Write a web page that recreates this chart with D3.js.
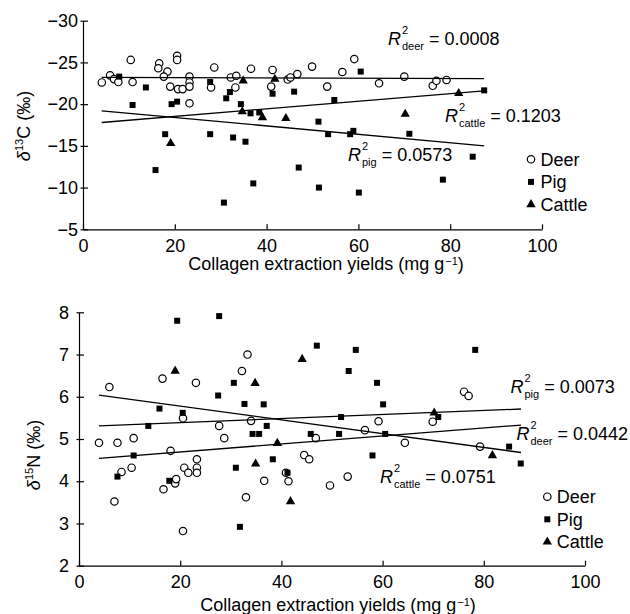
<!DOCTYPE html>
<html lang="en">
<head>
<meta charset="utf-8">
<script src="https://cdn.jsdelivr.net/npm/d3@7"></script>
<style>
  body { margin: 0; background: #fff; }
  svg { font-family: "Liberation Sans", Arial, sans-serif; }
</style>
</head>
<body>
<script>
// collagen yield (mg/g) vs delta13C
var deerC = [[4.1,-22.6],[5.9,-23.45],[6.75,-23.0],[7.7,-22.65],[10.4,-25.3],[10.8,-22.65],[16.6,-24.9],[16.4,-24.3],
  [18.4,-23.9],[17.6,-23.3],[19.0,-22.1],[20.5,-25.8],[20.5,-25.3],[20.7,-21.8],[21.7,-21.8],[23.2,-23.3],[23.2,-22.6],
  [23.2,-22.1],[23.2,-20.1],[28.6,-24.4],[27.9,-22.0],[32.2,-23.2],[33.4,-23.4],[33.2,-22.0],[36.6,-24.25],[41.3,-24.1],
  [41.0,-22.1],[44.6,-22.95],[45.2,-23.2],[46.7,-23.6],[49.9,-24.5],[53.2,-22.1],[56.5,-23.85],[59.1,-25.4],[64.5,-22.5],
  [70.0,-23.3],[76.2,-22.2],[77.0,-22.8],[79.2,-22.9]];
var pigC = [[7.9,-23.3],[13.7,-22.0],[10.8,-19.9],[15.8,-12.1],[17.9,-16.4],[19.3,-20.0],[20.5,-20.3],[27.7,-22.65],
  [27.7,-16.4],[30.7,-8.2],[31.2,-20.7],[32.0,-21.45],[32.7,-16.0],[34.4,-20.0],[35.4,-15.5],[36.5,-18.9],[38.4,-19.0],
  [37.1,-10.5],[41.3,-21.25],[46.0,-21.5],[47.0,-12.4],[51.3,-17.9],[51.4,-10.0],[53.4,-16.4],[54.75,-20.5],[58.2,-16.4],
  [58.9,-16.8],[60.5,-23.9],[60.1,-9.4],[71.1,-16.45],[78.4,-10.95],[84.9,-13.7],[87.4,-21.65]];
var cattleC = [[19.1,-15.3],[34.9,-22.8],[34.7,-19.1],[39.1,-18.4],[41.8,-23.0],[44.2,-18.3],[70.2,-18.8],[81.85,-21.3]];

// collagen yield vs delta15N
var deerN = [[3.95,4.91],[6.0,6.23],[7.6,4.91],[10.8,5.02],[10.4,4.32],[8.4,4.22],[7.0,3.52],[16.5,6.43],[18.1,4.72],
  [16.7,3.81],[19.0,3.95],[19.2,4.05],[20.55,5.49],[20.55,2.82],[20.8,4.32],[21.6,4.2],[23.1,6.33],[23.3,4.52],[23.3,4.32],
  [23.3,4.2],[27.7,5.31],[28.7,5.02],[32.2,6.61],[33.3,7.0],[34.0,5.43],[33.0,3.62],[36.6,4.01],[41.4,4.0],[40.9,4.2],
  [46.8,5.02],[44.5,4.62],[45.5,4.52],[49.6,3.9],[53.1,4.11],[56.5,5.21],[59.2,5.42],[64.4,4.91],[69.9,5.41],[76.1,6.12],
  [77.0,6.02],[79.25,4.82]];
var pigN = [[19.4,7.8],[27.7,7.91],[30.6,6.33],[27.5,6.03],[15.9,5.72],[20.5,5.62],[13.7,5.31],[10.8,4.61],[7.6,4.11],
  [17.85,4.01],[32.7,5.83],[36.5,5.82],[37.1,5.31],[34.3,5.12],[35.6,5.12],[31.0,4.32],[38.3,4.52],[31.8,2.92],[41.2,4.2],
  [45.8,5.12],[47.0,7.21],[54.7,7.11],[53.3,6.61],[58.9,6.33],[60.1,5.82],[51.8,5.52],[51.4,5.12],[60.5,5.12],[58.0,4.61],
  [71.0,5.52],[78.3,7.11],[85.0,4.82],[87.3,4.42]];
var cattleN = [[19.0,6.61],[34.8,6.32],[44.1,6.89],[39.2,4.9],[34.9,4.41],[41.8,3.52],[70.2,5.62],[81.7,4.61]];

// fitted lines: [x start, y start, x end, y end]
var fitC = { deer: [4.07,-23.2,87.4,-23.05], cattle: [4.07,-17.8,87.4,-21.6], pig: [4.07,-19.2,87.4,-15.0] };
var fitN = { cattle: [3.95,6.04,87.35,4.68], pig: [3.95,5.31,87.35,5.71], deer: [3.95,4.54,87.35,5.33] };

var r2C = { deer: "0.0008", cattle: "0.1203", pig: "0.0573" };
var r2N = { pig: "0.0073", deer: "0.0442", cattle: "0.0751" };

var species = ["Deer", "Pig", "Cattle"];
var xTicks = [0, 20, 40, 60, 80, 100];
var yTicksC = [-30, -25, -20, -15, -10, -5];
var yTicksN = [2, 3, 4, 5, 6, 7, 8];

var w = 630, h = 614;
var svg = d3.select("body").append("svg").attr("width", w).attr("height", h);

var sq = d3.symbol().type(d3.symbolSquare).size(36);
var tri = d3.symbol().type(d3.symbolTriangle).size(38);

function marker(g, kind, x, y) {
  if (kind === "Deer") {
    g.append("circle").attr("cx", x).attr("cy", y).attr("r", 3.7)
      .attr("fill", "#fff").attr("stroke", "#000").attr("stroke-width", 1.2);
  } else {
    g.append("path").attr("d", kind === "Pig" ? sq() : tri())
      .attr("transform", "translate(" + x + "," + y + ")").attr("fill", "#000");
  }
}

function r2Label(g, x, y, sub, val) {
  var t = g.append("text").attr("x", x).attr("y", y).attr("font-size", 18)
    .attr("font-style", "italic").text("R");
  var rw = t.node().getComputedTextLength();
  g.append("text").attr("x", x + rw + 1).attr("y", y - 11).attr("font-size", 11).text("2");
  var s = g.append("text").attr("x", x + rw + 1).attr("y", y + 5).attr("font-size", 11).text(sub);
  var sw = s.node().getComputedTextLength();
  g.append("text").attr("x", x + rw + 1 + sw + 5).attr("y", y).attr("font-size", 18).text("= " + val);
}

function panel(opt) {
  var g = svg.append("g");
  var x = opt.x, y = opt.y;

  // axes
  var xa = g.append("g").attr("transform", "translate(0," + y.range()[0] + ")")
    .call(d3.axisBottom(x).tickValues(xTicks).tickSizeInner(-5).tickSizeOuter(0).tickPadding(9.5));
  var ya = g.append("g").attr("transform", "translate(" + x.range()[0] + ",0)")
    .call(d3.axisLeft(y).tickValues(opt.yTicks).tickFormat(d3.format("d"))
      .tickSizeInner(-5).tickSizeOuter(0).tickPadding(opt.yPad));
  ya.selectAll(".tick line").attr("x1", -2.5);
  [xa, ya].forEach(function(a) {
    a.attr("font-size", 18).attr("font-family", null);
    a.selectAll("path, line").attr("stroke", "#000").attr("stroke-width", 1.2);
    a.selectAll("text").attr("fill", "#000");
  });

  // points
  opt.data[0].forEach(function(d) { marker(g, "Deer", x(d[0]), y(d[1])); });
  opt.data[1].forEach(function(d) { marker(g, "Pig", x(d[0]), y(d[1])); });
  opt.data[2].forEach(function(d) { marker(g, "Cattle", x(d[0]), y(d[1])); });

  // fitted lines
  Object.keys(opt.fit).forEach(function(k) {
    var f = opt.fit[k];
    g.append("line").attr("x1", x(f[0])).attr("y1", y(f[1])).attr("x2", x(f[2])).attr("y2", y(f[3]))
      .attr("stroke", "#000").attr("stroke-width", 1.3);
  });

  // legend
  species.forEach(function(s, i) {
    var ly = opt.legend[1] + i * 22.6;
    marker(g, s, opt.legend[0], ly);
    g.append("text").attr("x", opt.legend[0] + 9.5).attr("y", ly + 6.4).attr("font-size", 18).text(s);
  });

  // axis titles
  var xt = g.append("text").attr("x", opt.xTitle[0]).attr("y", opt.xTitle[1])
    .attr("text-anchor", "middle").attr("font-size", 18);
  xt.append("tspan").text("Collagen extraction yields (mg g");
  xt.append("tspan").attr("font-size", 11).attr("dx", 1).attr("dy", -5).text("\u22121");
  xt.append("tspan").attr("dy", 5).text(")");

  var yt = g.append("text").attr("transform", "translate(" + opt.yTitle[0] + "," + opt.yTitle[1] + ") rotate(-90)")
    .attr("text-anchor", "middle").attr("font-size", 18);
  yt.append("tspan").attr("font-style", "italic").text("\u03b4");
  yt.append("tspan").attr("font-size", 11).attr("dy", -7).text(opt.iso);
  yt.append("tspan").attr("dy", 7).text(opt.el + " (\u2030)");
  return g;
}

var gC = panel({
  x: d3.scaleLinear().domain([0, 100]).range([83, 542]),
  y: d3.scaleLinear().domain([-5, -30]).range([229.3, 20.7]),
  yTicks: yTicksC, yPad: 5,
  data: [deerC, pigC, cattleC], fit: fitC,
  legend: [531, 159.3], xTitle: [326, 270], yTitle: [30, 126], iso: "13", el: "C"
});
r2Label(gC, 388, 45, "deer", r2C.deer);
r2Label(gC, 445, 122, "cattle", r2C.cattle);
r2Label(gC, 348, 161, "pig", r2C.pig);

var gN = panel({
  x: d3.scaleLinear().domain([0, 100]).range([79, 585]),
  y: d3.scaleLinear().domain([2, 8]).range([565.7, 312.3]),
  yTicks: yTicksN, yPad: 10,
  data: [deerN, pigN, cattleN], fit: fitN,
  legend: [547.3, 496.7], xTitle: [338, 611], yTitle: [40, 455], iso: "15", el: "N"
});
r2Label(gN, 510.5, 393, "pig", r2N.pig);
r2Label(gN, 516.5, 440, "deer", r2N.deer);
r2Label(gN, 380, 483, "cattle", r2N.cattle);
</script>
</body>
</html>
